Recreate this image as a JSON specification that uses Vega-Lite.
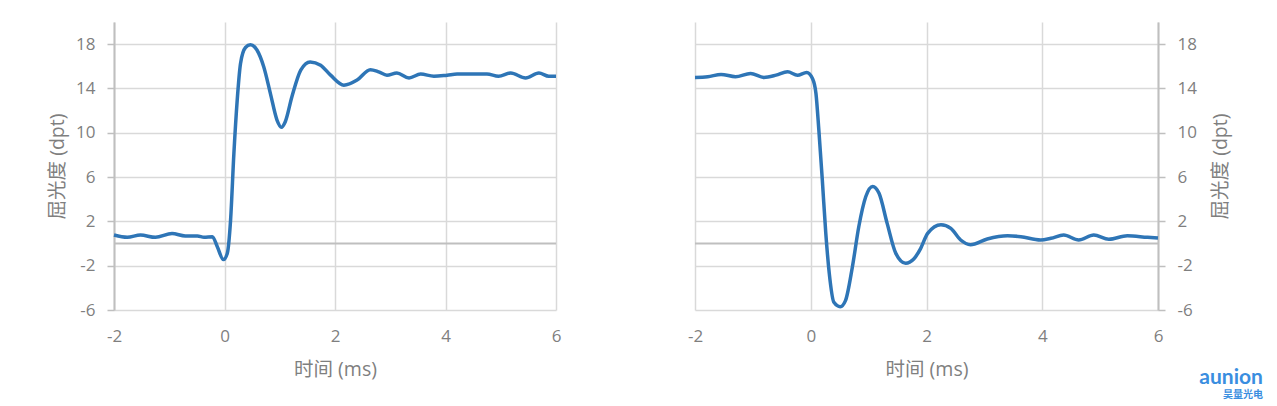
{
  "$schema": "https://vega.github.io/schema/vega-lite/v6.json",
  "padding": {"left": 47, "top": 22, "right": 5, "bottom": 5},
  "background": "white",
  "spacing": 139,
  "bounds": "flush",
  "config": {
    "view": {"stroke": null},
    "font": "'Open Sans', 'Noto Sans CJK SC'",
    "axis": {
      "labelFont": "Open Sans",
      "labelFontSize": 17,
      "labelColor": "#7f7f7f",
      "titleColor": "#7f7f7f",
      "titleFont": "'Open Sans', 'Noto Sans CJK SC'",
      "titleFontSize": 19.5,
      "titleFontWeight": "normal",
      "gridColor": "#d9d9d9",
      "gridWidth": 1.5,
      "domainColor": "#bfbfbf",
      "domainWidth": 2,
      "tickColor": "#bfbfbf",
      "tickWidth": 1.5,
      "labelExpr": "'' + datum.value"
    }
  },
  "title": {
    "text": "aunion",
    "subtitle": "昊量光电",
    "orient": "bottom",
    "anchor": "end",
    "color": "#3a8ee0",
    "fontSize": 21,
    "fontWeight": "bold",
    "font": "Lato",
    "subtitleColor": "#3a8ee0",
    "subtitleFontSize": 10,
    "subtitleFont": "Noto Sans CJK SC",
    "subtitleFontWeight": "bold",
    "subtitlePadding": 2,
    "offset": -12,
    "dx": 33
  },
  "datasets": {
    "on": [
      {"t": -2.0, "v": 0.77}, {"t": -1.76, "v": 0.56}, {"t": -1.52, "v": 0.77}, {"t": -1.25, "v": 0.56},
      {"t": -0.95, "v": 0.9}, {"t": -0.71, "v": 0.68}, {"t": -0.49, "v": 0.68}, {"t": -0.37, "v": 0.56},
      {"t": -0.22, "v": 0.62}, {"t": -0.13, "v": -0.29}, {"t": -0.02, "v": -1.45}, {"t": 0.05, "v": -0.89},
      {"t": 0.11, "v": 2.12}, {"t": 0.17, "v": 8.14}, {"t": 0.23, "v": 12.95}, {"t": 0.29, "v": 16.26},
      {"t": 0.38, "v": 17.7}, {"t": 0.47, "v": 17.95}, {"t": 0.59, "v": 17.45}, {"t": 0.71, "v": 15.96},
      {"t": 0.83, "v": 13.56}, {"t": 0.95, "v": 11.15}, {"t": 1.03, "v": 10.5}, {"t": 1.1, "v": 11.0},
      {"t": 1.22, "v": 13.25}, {"t": 1.38, "v": 15.66}, {"t": 1.55, "v": 16.4}, {"t": 1.74, "v": 16.1},
      {"t": 1.92, "v": 15.2}, {"t": 2.16, "v": 14.3}, {"t": 2.4, "v": 14.76}, {"t": 2.64, "v": 15.7},
      {"t": 2.79, "v": 15.5}, {"t": 2.94, "v": 15.2}, {"t": 3.12, "v": 15.4}, {"t": 3.34, "v": 14.95},
      {"t": 3.55, "v": 15.3}, {"t": 3.79, "v": 15.1}, {"t": 4.03, "v": 15.2}, {"t": 4.21, "v": 15.3},
      {"t": 4.75, "v": 15.3}, {"t": 4.96, "v": 15.1}, {"t": 5.18, "v": 15.4}, {"t": 5.45, "v": 14.95},
      {"t": 5.69, "v": 15.4}, {"t": 5.87, "v": 15.1}, {"t": 6.0, "v": 15.1}
    ],
    "off": [
      {"t": -2.0, "v": 15.0}, {"t": -1.78, "v": 15.06}, {"t": -1.55, "v": 15.27}, {"t": -1.3, "v": 15.06},
      {"t": -1.04, "v": 15.36}, {"t": -0.81, "v": 15.0}, {"t": -0.6, "v": 15.2}, {"t": -0.4, "v": 15.5},
      {"t": -0.23, "v": 15.2}, {"t": -0.07, "v": 15.45}, {"t": 0.03, "v": 14.9}, {"t": 0.09, "v": 13.55},
      {"t": 0.14, "v": 10.24}, {"t": 0.2, "v": 5.73}, {"t": 0.26, "v": 0.92}, {"t": 0.32, "v": -2.69},
      {"t": 0.4, "v": -5.3}, {"t": 0.51, "v": -5.7}, {"t": 0.6, "v": -5.15}, {"t": 0.72, "v": -2.09},
      {"t": 0.83, "v": 1.52}, {"t": 0.95, "v": 4.22}, {"t": 1.07, "v": 5.15}, {"t": 1.18, "v": 4.53},
      {"t": 1.32, "v": 1.82}, {"t": 1.47, "v": -0.89}, {"t": 1.64, "v": -1.78}, {"t": 1.78, "v": -1.4},
      {"t": 1.9, "v": -0.43}, {"t": 2.02, "v": 0.92}, {"t": 2.25, "v": 1.7}, {"t": 2.42, "v": 1.37},
      {"t": 2.59, "v": 0.32}, {"t": 2.76, "v": -0.1}, {"t": 3.05, "v": 0.41}, {"t": 3.4, "v": 0.7},
      {"t": 3.63, "v": 0.62}, {"t": 3.97, "v": 0.32}, {"t": 4.15, "v": 0.47}, {"t": 4.37, "v": 0.77},
      {"t": 4.63, "v": 0.32}, {"t": 4.89, "v": 0.77}, {"t": 5.15, "v": 0.38}, {"t": 5.47, "v": 0.7},
      {"t": 5.82, "v": 0.56}, {"t": 6.0, "v": 0.5}
    ]
  },
  "hconcat": [
    {
      "width": 442,
      "height": 288,
      "layer": [
        {
          "data": {"values": [{"v": 0}]},
          "mark": {"type": "rule", "color": "#bfbfbf", "strokeWidth": 2},
          "encoding": {
            "y": {
              "field": "v", "type": "quantitative",
              "scale": {"domain": [-6, 20], "nice": false, "zero": false},
              "axis": {"orient": "left", "values": [-6, -2, 2, 6, 10, 14, 18], "tickSize": 7, "labelPadding": 12, "title": "屈光度 (dpt)", "titlePadding": 8}
            }
          }
        },
        {
          "data": {"name": "on"},
          "mark": {"type": "line", "interpolate": "monotone", "color": "#2e75b6", "strokeWidth": 3.5},
          "encoding": {
            "x": {
              "field": "t", "type": "quantitative",
              "scale": {"domain": [-2, 6], "nice": false, "zero": false},
              "axis": {"values": [-2, 0, 2, 4, 6], "domain": false, "ticks": false, "labelFlush": false, "labelPadding": 18, "title": "时间 (ms)", "titlePadding": 16}
            },
            "y": {
              "field": "v", "type": "quantitative",
              "scale": {"domain": [-6, 20], "nice": false, "zero": false},
              "axis": {"orient": "left", "values": [-6, -2, 2, 6, 10, 14, 18], "tickSize": 7, "labelPadding": 12, "title": "屈光度 (dpt)", "titlePadding": 8}
            }
          }
        }
      ]
    },
    {
      "width": 463,
      "height": 288,
      "layer": [
        {
          "data": {"values": [{"v": 0}]},
          "mark": {"type": "rule", "color": "#bfbfbf", "strokeWidth": 2},
          "encoding": {
            "y": {
              "field": "v", "type": "quantitative",
              "scale": {"domain": [-6, 20], "nice": false, "zero": false},
              "axis": {"orient": "right", "values": [-6, -2, 2, 6, 10, 14, 18], "tickSize": 7, "labelPadding": 12, "title": "屈光度 (dpt)", "titlePadding": 15, "titleAngle": 270, "titleBaseline": "top"}
            }
          }
        },
        {
          "data": {"name": "off"},
          "mark": {"type": "line", "interpolate": "monotone", "color": "#2e75b6", "strokeWidth": 3.5},
          "encoding": {
            "x": {
              "field": "t", "type": "quantitative",
              "scale": {"domain": [-2, 6], "nice": false, "zero": false},
              "axis": {"values": [-2, 0, 2, 4, 6], "domain": false, "ticks": false, "labelFlush": false, "labelPadding": 18, "title": "时间 (ms)", "titlePadding": 16}
            },
            "y": {
              "field": "v", "type": "quantitative",
              "scale": {"domain": [-6, 20], "nice": false, "zero": false},
              "axis": {"orient": "right", "values": [-6, -2, 2, 6, 10, 14, 18], "tickSize": 7, "labelPadding": 12, "title": "屈光度 (dpt)", "titlePadding": 15, "titleAngle": 270, "titleBaseline": "top"}
            }
          }
        }
      ]
    }
  ]
}
